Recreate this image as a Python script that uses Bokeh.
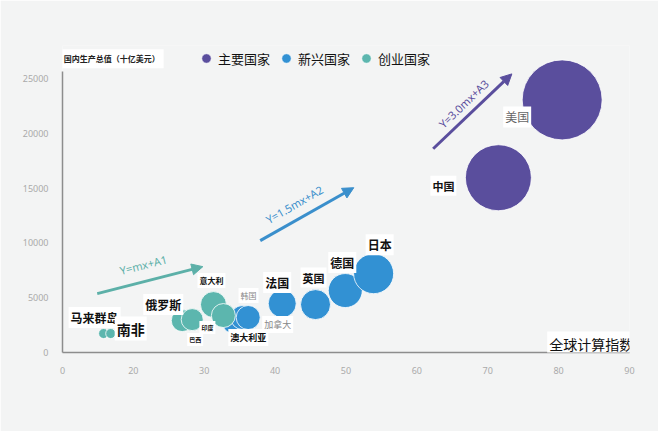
from bokeh.plotting import figure
from bokeh.models import (ColumnDataSource, Range1d, FixedTicker, Label, Arrow,
                          NormalHead, Legend, LegendItem)
from bokeh.core.properties import value
from bokeh.embed import file_html
from bokeh.resources import INLINE
import math

# ---------------- data ----------------
countries = ["马来群岛", "南非", "俄罗斯", "巴西", "意大利", "印度",
             "澳大利亚", "韩国", "加拿大", "法国", "英国", "德国", "日本",
             "中国", "美国"]
gci = [15.8, 16.8, 26.9, 28.3, 31.3, 32.7, 34.1, 35.4, 36.2, 41.0, 45.7, 49.9, 53.9, 71.5, 80.5]
gdp = [1730, 1730, 2910, 3000, 4370, 3370, 2730, 3190, 3190, 4460, 4370, 5650, 7190, 15940, 23040]
bubble = [10, 10, 22, 22, 26, 24, 22, 24, 24, 28, 30, 34, 40, 66, 80]
group = ["创业国家"] * 6 + ["新兴国家"] * 7 + ["主要国家"] * 2

groups = ["主要国家", "新兴国家", "创业国家"]
group_colors = {"主要国家": "#5a4e9d", "新兴国家": "#3291d3", "创业国家": "#5cb6ae"}

x_ticks = [10, 20, 30, 40, 50, 60, 70, 80, 90]
x_tick_labels = ["0", "20", "30", "40", "50", "60", "70", "80", "90"]
y_ticks = [0, 5000, 10000, 15000, 20000, 25000]

trend_labels = ["Y=mx+A1", "Y=1.5mx+A2", "Y=3.0mx+A3"]

# label styling / pixel offsets (layout only)
lab_dx = [-35, 4, -39, -5, -16, -24, -5, -4, 14, -19, -15, -17, -8, -68, -59]
lab_dy = [-16, -5, -16, 20, -24, 12, 15, -22, 7, -21, -27, -28, -29, 8, 17]
lab_size = ["12px", "14px", "12px", "6px", "8px", "6px", "9px", "8px", "9px",
            "12px", "11px", "12px", "12px", "11px", "12px"]
lab_color = ["#111"] * 7 + ["#888", "#888"] + ["#111"] * 5 + ["#666"]
lab_style = ["bold"] * 7 + ["normal", "normal"] + ["bold"] * 5 + ["normal"]

BG = "#f3f4f4"
FONT = "Noto Sans CJK SC"

p = figure(width=658, height=431, output_backend="svg", toolbar_location=None,
           x_range=Range1d(10, 90), y_range=Range1d(0, 28000))
p.min_border_left = 62
p.min_border_right = 29
p.min_border_top = 45
p.min_border_bottom = 79
p.background_fill_color = BG
p.border_fill_color = BG
p.outline_line_color = None
p.grid.grid_line_color = None

for ax in (p.xaxis[0], p.yaxis[0]):
    ax.axis_line_color = "#8d8d8d"
    ax.axis_line_width = 1.5
    ax.major_tick_line_color = None
    ax.minor_tick_line_color = None
    ax.major_label_text_color = "#aaaaaa"
    ax.major_label_text_font_size = "9px"
    ax.major_label_text_font = "Noto Sans"
    ax.major_label_standoff = 8

p.xaxis.ticker = FixedTicker(ticks=x_ticks)
p.xaxis.major_label_overrides = {t: l for t, l in zip(x_ticks, x_tick_labels)}
p.xaxis.bounds = (10, 90.5)
p.yaxis.ticker = FixedTicker(ticks=y_ticks)
p.yaxis.bounds = (0, 25600)

src = ColumnDataSource(dict(
    name=countries, x=gci, y=gdp, size=bubble, group=group,
    color=[group_colors[g] for g in group],
    dx=lab_dx, dy=lab_dy, fs=lab_size, tc=lab_color, st=lab_style))

renderers = {}
for g in groups:
    idx = [i for i, gg in enumerate(group) if gg == g]
    s = ColumnDataSource(dict(x=[gci[i] for i in idx], y=[gdp[i] for i in idx],
                              size=[bubble[i] for i in idx]))
    renderers[g] = p.scatter("x", "y", size="size", source=s, fill_color=group_colors[g],
                             line_color="white", line_alpha=0.8, line_width=1)

# country labels
p.text("x", "y", text="name", source=src, x_offset="dx", y_offset="dy",
       text_font=value(FONT), text_font_size="fs", text_color="tc",
       text_font_style="st", text_align="left", text_baseline="middle",
       background_fill_color="white", padding=2)

# trend arrows
arrows = [
    ((14.9, 5370), (29.8, 7830), "#5cb0a8", trend_labels[0], (21.4, 8000), 14),
    ((37.9, 10200), (51.1, 15030), "#3a8fcc", trend_labels[1], (42.7, 13500), 30),
    ((62.3, 18580), (73.4, 25410), "#5a4e9d", trend_labels[2], (66.6, 22700), 44),
]
for (xs, ys), (xe, ye), col, txt, (tx, ty), ang in arrows:
    p.add_layout(Arrow(x_start=xs, y_start=ys, x_end=xe, y_end=ye, line_color=col,
                       line_width=3,
                       end=NormalHead(size=11, fill_color=col, line_color=col)))
    p.add_layout(Label(x=tx, y=ty, text=txt, angle=math.radians(ang),
                       text_align="center", text_baseline="middle",
                       text_color=col, text_font_size="11px", text_font="Noto Sans"))

# axis titles and source
p.add_layout(Label(x=9.6, y=26800, text="国内生产总值（十亿美元）", text_font=FONT,
                   text_font_size="8px", text_font_style="bold", text_color="#222",
                   text_baseline="middle", background_fill_color="white", padding=4))
p.add_layout(Label(x=90.8, y=820, text="全球计算指数", text_font=FONT,
                   text_font_size="14px", text_color="#111", text_align="right",
                   text_baseline="middle", background_fill_color="white", padding=2))
p.add_layout(Label(x=91.2, y=-2830, text="数据来源:IDC,2021", text_font=FONT,
                   text_font_size="10px", text_color="#111", text_align="right",
                   text_baseline="middle", background_fill_color="white", padding=2))

legend = Legend(items=[LegendItem(label=g, renderers=[renderers[g]]) for g in groups],
                orientation="horizontal", location=(132, 282),
                label_text_font=FONT, label_text_font_size="13px",
                label_text_color="#111",
                glyph_width=24, glyph_height=24, label_standoff=0, spacing=4,
                background_fill_alpha=0, border_line_color=None, padding=2)
p.add_layout(legend, "center")

open("out.html", "w").write(file_html(p, INLINE))
